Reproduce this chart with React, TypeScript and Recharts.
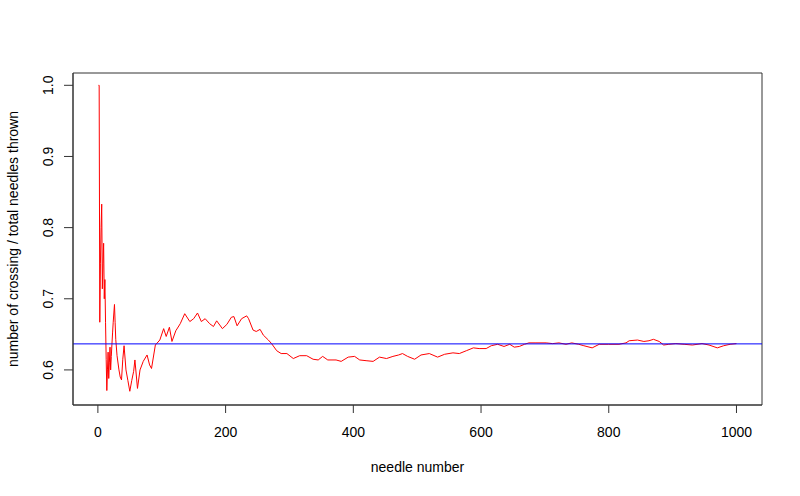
import React from "react";
import { LineChart, Line, XAxis, YAxis, ReferenceLine, ReferenceArea } from "recharts";

const needles = [
  1, 2, 3, 4, 5, 6, 7, 8, 9, 10, 11, 12, 13, 14, 15, 16, 17, 18, 19, 20, 21, 22, 23, 24, 25, 26, 27, 28, 30, 33,
  35, 37, 39, 41, 44, 47, 50, 53, 56, 58, 62, 66, 71, 77, 81, 84, 90, 97, 103, 107,
  112, 116, 122, 129, 136, 144, 150, 156, 162, 168, 175, 181, 186, 195, 202, 209, 213, 218, 225, 233,
  236, 243, 248, 254, 259, 267, 272, 280, 287, 296, 306, 316, 327, 337, 345, 352, 360, 373, 381, 392,
  402, 410, 420, 431, 441, 452, 462, 471, 477, 485, 496, 506, 519, 532, 543, 556, 566, 577, 588, 597,
  608, 616, 626, 636, 645, 652, 660, 668, 675, 686, 702, 712, 722, 733, 742, 753, 761, 774, 785, 800,
  816, 827, 832, 845, 855, 863, 870, 879, 886, 894, 905, 918, 931, 946, 957, 970, 980, 990, 1000,
];

const ratios = [
  1.0, 1.0, 0.667, 0.75, 0.8, 0.833, 0.714, 0.75, 0.778, 0.7, 0.727, 0.667, 0.615, 0.571, 0.6, 0.625, 0.588, 0.611, 0.632, 0.6, 0.619, 0.636, 0.652, 0.667, 0.68, 0.692, 0.667, 0.643, 0.62, 0.6,
  0.59, 0.586, 0.615, 0.634, 0.6, 0.585, 0.57, 0.585, 0.598, 0.614, 0.574, 0.6, 0.612, 0.621, 0.607, 0.602, 0.635, 0.642, 0.658, 0.647,
  0.66, 0.64, 0.655, 0.665, 0.679, 0.668, 0.672, 0.68, 0.668, 0.672, 0.665, 0.661, 0.669, 0.658, 0.664, 0.674, 0.675, 0.662, 0.672, 0.676,
  0.672, 0.656, 0.654, 0.657, 0.649, 0.642, 0.637, 0.627, 0.623, 0.623, 0.616, 0.62, 0.62, 0.615, 0.614, 0.619, 0.614, 0.614, 0.612, 0.618,
  0.619, 0.614, 0.613, 0.612, 0.618, 0.616, 0.619, 0.621, 0.623, 0.619, 0.615, 0.621, 0.623, 0.618, 0.622, 0.624, 0.623, 0.627, 0.631, 0.63,
  0.63, 0.634, 0.636, 0.633, 0.636, 0.632, 0.633, 0.636, 0.638, 0.638, 0.638, 0.637, 0.638, 0.636, 0.638, 0.636, 0.634, 0.631, 0.636, 0.636,
  0.636, 0.638, 0.641, 0.642, 0.64, 0.641, 0.643, 0.64, 0.635, 0.636, 0.637, 0.636, 0.635, 0.637, 0.635, 0.631, 0.634, 0.636, 0.637,
];

const xTicks = [0, 200, 400, 600, 800, 1000];
const yTicks = [0.6, 0.7, 0.8, 0.9, 1.0];
const referenceValue = 0.6366;
const xDomain: [number, number] = [-38.96, 1039.96];
const yDomain: [number, number] = [0.5507, 1.0173];

const data = needles.map((n, i) => ({ n, r: ratios[i] }));

const FONT = "'Liberation Sans', Arial, sans-serif";

const YTick = (props: any) => {
  const { y, payload } = props;
  return (
    <text
      transform={`translate(53,${y}) rotate(-90)`}
      textAnchor="middle"
      fontSize={14}
      fontFamily={FONT}
      fill="#000"
    >
      {Number(payload.value).toFixed(1)}
    </text>
  );
};

const XTick = (props: any) => {
  const { x, payload } = props;
  return (
    <text x={x} y={437} textAnchor="middle" fontSize={14} fontFamily={FONT} fill="#000">
      {payload.value}
    </text>
  );
};

export default function App() {
  return (
    <div style={{ position: "absolute", left: 0, top: 0, width: 800, height: 496, background: "#fff" }}>
      <LineChart
        width={800}
        height={496}
        data={data}
        margin={{ top: 73, right: 38, bottom: 0, left: 0 }}
      >
        <XAxis
          type="number"
          dataKey="n"
          domain={xDomain}
          ticks={xTicks}
          allowDataOverflow
          height={91}
          tickSize={8}
          stroke="#333"
          tick={<XTick />}
          label={{
            content: () => (
              <text x={417.5} y={472} textAnchor="middle" fontSize={14} fontFamily={FONT} fill="#000">
                needle number
              </text>
            ),
          }}
        />
        <YAxis
          type="number"
          domain={yDomain}
          ticks={yTicks}
          allowDataOverflow
          width={73}
          tickSize={9}
          stroke="#333"
          tick={<YTick />}
          label={{
            content: () => (
              <text
                transform="translate(18,239) rotate(-90)"
                textAnchor="middle"
                fontSize={14}
                fontFamily={FONT}
                fill="#000"
              >
                number of crossing / total needles thrown
              </text>
            ),
          }}
        />
        <ReferenceArea
          x1={xDomain[0]}
          x2={xDomain[1]}
          y1={yDomain[0]}
          y2={yDomain[1]}
          fill="none"
          fillOpacity={0}
          stroke="#333"
          strokeWidth={1}
        />
        <Line
          type="linear"
          dataKey="r"
          stroke="#ff0000"
          strokeWidth={1}
          dot={false}
          isAnimationActive={false}
        />
        <ReferenceLine y={referenceValue} stroke="#0000ff" strokeWidth={1} />
      </LineChart>
    </div>
  );
}
